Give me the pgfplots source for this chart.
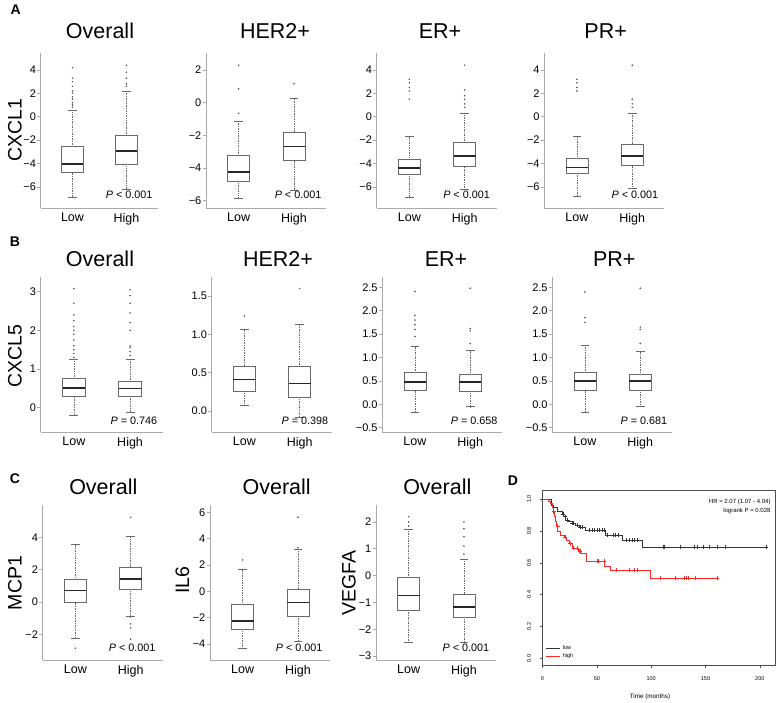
\documentclass[border=0pt]{standalone}
\usepackage{pgfplots}
\pgfplotsset{compat=1.18}
\usepgfplotslibrary{statistics}
\usepackage{fontspec}
\setmainfont{Liberation Sans}
\definecolor{axgray}{RGB}{170,170,170}
\definecolor{boxgray}{RGB}{105,105,105}
\definecolor{outgray}{RGB}{80,80,80}
\newcommand{\tfont}{\fontsize{21.5}{24}\selectfont}
\newcommand{\yfont}{\fontsize{19.5}{22}\selectfont}
\newcommand{\pfont}{\fontsize{10.8}{12}\selectfont}
\newcommand{\lfont}{\fontsize{14}{16}\selectfont\bfseries}
\pgfplotsset{
  boxplot/draw direction=y,
  boxplot/box extend=0.4,
  boxplot/whisker extend=0.16,
  boxplot/every box/.style={draw=boxgray, line width=0.7pt, fill=none},
  boxplot/every median/.style={draw=black!85, line width=1.6pt},
  boxplot/draw/lower whisker/.code={
    \draw[boxgray, densely dotted, line width=0.7pt] (boxplot cs:\pgfplotsboxplotvalue{lower quartile}) -- (boxplot cs:\pgfplotsboxplotvalue{lower whisker});
    \draw[boxgray, line width=0.7pt] (boxplot whisker cs:\pgfplotsboxplotvalue{lower whisker},0) -- (boxplot whisker cs:\pgfplotsboxplotvalue{lower whisker},1);
  },
  boxplot/draw/upper whisker/.code={
    \draw[boxgray, densely dotted, line width=0.7pt] (boxplot cs:\pgfplotsboxplotvalue{upper quartile}) -- (boxplot cs:\pgfplotsboxplotvalue{upper whisker});
    \draw[boxgray, line width=0.7pt] (boxplot whisker cs:\pgfplotsboxplotvalue{upper whisker},0) -- (boxplot whisker cs:\pgfplotsboxplotvalue{upper whisker},1);
  },
  bxaxis/.style={
    scale only axis, width=120pt, height=155pt, anchor=south west,
    axis x line*=bottom, axis y line*=left,
    axis line style={axgray, line width=0.9pt},
    xmin=0.41, xmax=2.58,
    xtick={1,2}, xticklabels={Low,High},
    xtick style={draw=none},
    ytick style={axgray, line width=0.8pt},
    tick align=outside, major tick length=3.5pt,
    xticklabel style={font=\fontsize{12.5}{14}\selectfont, inner sep=1.5pt},
    yticklabel style={font=\fontsize{11}{13}\selectfont, inner sep=1pt},
    clip=false,
  },
  outl/.style={only marks, mark=*, mark size=0.55pt, outgray, forget plot},
}
\newcommand{\bx}[6]{\addplot[forget plot, boxplot prepared={draw position=#1, lower whisker=#2, lower quartile=#3, median=#4, upper quartile=#5, upper whisker=#6}] coordinates {};}

\begin{document}
\begin{tikzpicture}[x=1pt,y=1pt]
\useasboundingbox (0,0) rectangle (778,702);

% ================= Panel A (CXCL1) =================
\begin{axis}[bxaxis, width=117pt, at={(40.7pt,494pt)}, ymin=-7.8, ymax=5.45,
  ytick={-6,-4,-2,0,2,4}, yticklabels={−6,−4,−2,0,2,4}]
\bx{1}{-6.85}{-4.77}{-4.05}{-2.57}{0.57}
\bx{2}{-6.17}{-4.08}{-2.91}{-1.63}{2.2}
\addplot[outl] coordinates {(1,4.2)(1,3.3)(1,3.0)(1,2.6)(1,2.2)(1,2.0)(1,1.7)(1,1.5)(1,1.2)(1,1.0)(1,0.8)
 (2,4.4)(2,3.8)(2,3.3)(2,2.8)(2,2.6)};
\end{axis}
\begin{axis}[bxaxis, at={(206pt,494pt)}, ymin=-6.45, ymax=3.05,
  ytick={-6,-4,-2,0,2}, yticklabels={−6,−4,−2,0,2}]
\bx{1}{-5.84}{-4.81}{-4.26}{-3.24}{-1.13}
\bx{2}{-5.39}{-3.54}{-2.67}{-1.79}{0.3}
\addplot[outl] coordinates {(1,2.3)(1,0.85)(1,-0.65)(2,1.16)};
\end{axis}
\begin{axis}[bxaxis, at={(376.7pt,494pt)}, ymin=-7.8, ymax=5.45,
  ytick={-6,-4,-2,0,2,4}, yticklabels={−6,−4,−2,0,2,4}]
\bx{1}{-6.85}{-4.91}{-4.37}{-3.63}{-1.71}
\bx{2}{-6.17}{-4.28}{-3.37}{-2.23}{0.29}
\addplot[outl] coordinates {(1,3.2)(1,2.9)(1,2.5)(1,2.2)(1,1.5)
 (2,4.4)(2,2.3)(2,1.8)(2,1.5)(2,1.1)(2,0.8)};
\end{axis}
\begin{axis}[bxaxis, at={(544.3pt,494pt)}, ymin=-7.8, ymax=5.45,
  ytick={-6,-4,-2,0,2,4}, yticklabels={−6,−4,−2,0,2,4}]
\bx{1}{-6.8}{-4.81}{-4.33}{-3.56}{-1.69}
\bx{2}{-6.14}{-4.19}{-3.34}{-2.34}{0.31}
\addplot[outl] coordinates {(1,3.2)(1,2.9)(1,2.5)(1,2.2)(2,4.4)(2,1.5)(2,1.1)(2,0.8)};
\end{axis}

% ================= Panel B (CXCL5) =================
\begin{axis}[bxaxis, at={(40.7pt,270pt)}, width=122pt, ymin=-0.63, ymax=3.38,
  ytick={0,1,2,3}, yticklabels={0,1,2,3}]
\bx{1}{-0.19}{0.28}{0.51}{0.75}{1.25}
\bx{2}{-0.13}{0.30}{0.50}{0.67}{1.25}
\addplot[outl] coordinates {(1,3.08)(1,2.7)(1,2.4)(1,2.25)(1,2.1)(1,2.0)(1,1.9)(1,1.75)(1,1.6)(1,1.5)(1,1.4)(1,1.3)
 (2,3.05)(2,2.9)(2,2.7)(2,2.45)(2,2.2)(2,2.0)(2,1.6)(2,1.55)(2,1.45)(2,1.35)};
\end{axis}
\begin{axis}[bxaxis, at={(211.7pt,270pt)}, ymin=-0.274, ymax=1.75,
  ytick={0,0.5,1,1.5}, yticklabels={0.0,0.5,1.0,1.5}]
\bx{1}{0.07}{0.26}{0.413}{0.587}{1.066}
\bx{2}{-0.08}{0.18}{0.36}{0.578}{1.13}
\addplot[outl] coordinates {(1,1.24)(2,1.6)};
\end{axis}
\begin{axis}[bxaxis, at={(382.3pt,270pt)}, ymin=-0.59, ymax=2.72,
  ytick={-0.5,0,0.5,1,1.5,2,2.5}, yticklabels={−0.5,0.0,0.5,1.0,1.5,2.0,2.5}]
\bx{1}{-0.18}{0.29}{0.48}{0.675}{1.23}
\bx{2}{-0.05}{0.28}{0.48}{0.64}{1.15}
\addplot[outl] coordinates {(1,2.41)(1,1.9)(1,1.8)(1,1.7)(1,1.6)(1,1.45)(2,2.48)(2,1.62)(2,1.57)(2,1.3)};
\end{axis}
\begin{axis}[bxaxis, at={(552.3pt,270pt)}, ymin=-0.59, ymax=2.72,
  ytick={-0.5,0,0.5,1,1.5,2,2.5}, yticklabels={−0.5,0.0,0.5,1.0,1.5,2.0,2.5}]
\bx{1}{-0.18}{0.29}{0.50}{0.675}{1.25}
\bx{2}{-0.05}{0.30}{0.50}{0.64}{1.13}
\addplot[outl] coordinates {(1,2.4)(1,1.85)(1,1.75)(2,2.48)(2,1.65)(2,1.6)(2,1.3)};
\end{axis}

% ================= Panel C =================
\begin{axis}[bxaxis, at={(42.7pt,42pt)}, ymin=-3.59, ymax=6.0,
  ytick={-2,0,2,4}, yticklabels={−2,0,2,4}]
\bx{1}{-2.25}{-0.04}{0.7}{1.4}{3.59}
\bx{2}{-0.91}{0.78}{1.42}{2.16}{4.04}
\addplot[outl] coordinates {(1,-2.86)(2,5.24)(2,-1.35)(2,-1.6)(2,-2.3)};
\end{axis}
\begin{axis}[bxaxis, at={(210pt,42pt)}, ymin=-5.21, ymax=6.55,
  ytick={-4,-2,0,2,4,6}, yticklabels={−4,−2,0,2,4,6}]
\bx{1}{-4.33}{-2.89}{-2.25}{-0.99}{1.69}
\bx{2}{-3.82}{-1.87}{-0.86}{0.17}{3.21}
\addplot[outl] coordinates {(1,2.38)(2,5.62)(2,3.3)};
\end{axis}
\begin{axis}[bxaxis, at={(376pt,42pt)}, ymin=-3.15, ymax=2.63,
  ytick={-3,-2,-1,0,1,2}, yticklabels={−3,−2,−1,0,1,2}]
\bx{1}{-2.5}{-1.28}{-0.75}{-0.08}{1.73}
\bx{2}{-2.5}{-1.56}{-1.18}{-0.69}{0.62}
\addplot[outl] coordinates {(1,1.85)(1,2.0)(1,2.2)(2,2.0)(2,1.75)(2,1.45)(2,1.1)(2,0.8)};
\end{axis}

% ================= Panel D (Kaplan-Meier) =================
\begin{axis}[at={(542.5pt,37pt)}, anchor=south west, scale only axis,
  width=232.5pt, height=175pt,
  xmin=0, xmax=214, ymin=-0.04, ymax=1.056,
  axis line style={black!70, line width=0.5pt},
  xtick={0,50,100,150,200}, xticklabels={0,50,100,150,200},
  ytick={0,0.2,0.4,0.6,0.8,1.0},
  yticklabels={0.0,0.2,0.4,0.6,0.8,1.0},
  xtick pos=bottom, ytick pos=left, tick align=outside, major tick length=3pt,
  tick style={black!70, line width=0.5pt},
  tick label style={font=\fontsize{5.5}{6}\selectfont},
  xticklabel style={yshift=-5pt},
  yticklabel style={rotate=90, anchor=south, yshift=5pt},
  legend style={at={(0.015,0.02)}, anchor=south west, draw=none, fill=none,
    font=\fontsize{5.5}{6}\selectfont, inner sep=0pt, row sep=-1.5pt},
  legend image code/.code={\draw[#1] (0pt,0pt) -- (14pt,0pt);},
  legend cell align=left,
]
\addplot[const plot, black!80, line width=0.6pt] coordinates {
 (0,1.0)(8,0.9625)(10,0.946)(14,0.92)(17.8,0.904)(19.5,0.89)(21,0.869)(24,0.858)(27,0.848)(30,0.838)(34,0.823)(39.3,0.806)(57.7,0.775)(73,0.74)(92,0.70)(207,0.70)};
\addlegendentry{low}
\addplot[const plot, red!85!white, line width=0.6pt] coordinates {
 (0,1.0)(5.5,0.985)(7,0.97)(9,0.95)(10,0.92)(11,0.89)(12,0.86)(13,0.83)(14,0.80)(16,0.775)(20,0.76)(22,0.74)(25,0.72)(27,0.69)(33,0.675)(35,0.66)(40,0.61)(57,0.58)(62,0.555)(99,0.505)(160,0.505)};
\addlegendentry{high}
\addplot[only marks, mark=+, mark size=2pt, black!80, line width=0.5pt, forget plot] coordinates {
 (18.8,0.904)(20.9,0.89)(23.1,0.869)(27.1,0.848)(28.6,0.848)(32.3,0.838)(34.8,0.823)(36.3,0.823)
 (43.4,0.806)(45.9,0.806)(48.0,0.806)(50.2,0.806)(52.3,0.806)(54.8,0.806)(57,0.806)
 (60,0.775)(65,0.775)(67.1,0.775)(69.3,0.775)(76.7,0.74)(79.4,0.74)(82.2,0.74)(84.7,0.74)(87.1,0.74)
 (110.8,0.70)(112.4,0.70)(126.5,0.70)(140,0.70)(142.5,0.70)(148.4,0.70)(153.9,0.70)(160.4,0.70)(167.8,0.70)(206,0.70)};
\addplot[only marks, mark=+, mark size=2pt, red!85!white, line width=0.5pt, forget plot] coordinates {
 (10.2,0.92)(13.9,0.83)(20.9,0.76)(25.6,0.72)(28.6,0.69)(31.7,0.69)(34.2,0.675)(34.8,0.675)
 (50.2,0.61)(51.7,0.61)(56.5,0.61)(68,0.555)(79.4,0.555)(84.7,0.555)(87.1,0.555)
 (108,0.505)(121.9,0.505)(130.2,0.505)(132.7,0.505)(133.9,0.505)(141,0.505)(160.4,0.505)};
\end{axis}

% ================= Texts =================
\node[font=\lfont] at (15.8,{702-10}) {A};
\node[font=\lfont] at (15,{702-241.7}) {B};
\node[font=\lfont] at (15,{702-478.3}) {C};
\node[font=\lfont] at (513,{702-480.5}) {D};
\node[font=\tfont, anchor=base] at (100,{702-38.5}) {Overall};
\node[font=\tfont, anchor=base] at (275,{702-38.5}) {HER2+};
\node[font=\tfont, anchor=base] at (440,{702-38.5}) {ER+};
\node[font=\tfont, anchor=base] at (605.7,{702-38.5}) {PR+};
\node[font=\tfont, anchor=base] at (100,{702-267}) {Overall};
\node[font=\tfont, anchor=base] at (278,{702-267}) {HER2+};
\node[font=\tfont, anchor=base] at (446,{702-267}) {ER+};
\node[font=\tfont, anchor=base] at (614.3,{702-267}) {PR+};
\node[font=\tfont, anchor=base] at (103.3,{702-494}) {Overall};
\node[font=\tfont, anchor=base] at (276.7,{702-494}) {Overall};
\node[font=\tfont, anchor=base] at (437.3,{702-494}) {Overall};
\node[font=\yfont, rotate=90] at (15,{702-130}) {CXCL1};
\node[font=\yfont, rotate=90] at (15,{702-356}) {CXCL5};
\node[font=\yfont, rotate=90] at (15,{702-583}) {MCP1};
\node[font=\yfont, rotate=90] at (182.5,{702-580}) {IL6};
\node[font=\yfont, rotate=90] at (349,{702-583}) {VEGFA};
\node[font=\pfont, anchor=base east, inner sep=0pt] at (152.7,{702-199}) {\textit{P} < 0.001};
\node[font=\pfont, anchor=base east, inner sep=0pt] at (321.5,{702-199}) {\textit{P} < 0.001};
\node[font=\pfont, anchor=base east, inner sep=0pt] at (490,{702-199}) {\textit{P} < 0.001};
\node[font=\pfont, anchor=base east, inner sep=0pt] at (658.3,{702-199}) {\textit{P} < 0.001};
\node[font=\pfont, anchor=base east, inner sep=0pt] at (157.3,{702-424.3}) {\textit{P} = 0.746};
\node[font=\pfont, anchor=base east, inner sep=0pt] at (328.3,{702-424.3}) {\textit{P} = 0.398};
\node[font=\pfont, anchor=base east, inner sep=0pt] at (497.7,{702-424}) {\textit{P} = 0.658};
\node[font=\pfont, anchor=base east, inner sep=0pt] at (667.3,{702-424}) {\textit{P} = 0.681};
\node[font=\pfont, anchor=base east, inner sep=0pt] at (155.7,{702-651.7}) {\textit{P} < 0.001};
\node[font=\pfont, anchor=base east, inner sep=0pt] at (322.7,{702-651.7}) {\textit{P} < 0.001};
\node[font=\pfont, anchor=base east, inner sep=0pt] at (489.3,{702-651.7}) {\textit{P} < 0.001};
\node[font=\fontsize{6}{7}\selectfont, anchor=base east, inner sep=0pt] at (770.7,{702-503.3}) {HR = 2.07 (1.07 - 4.04)};
\node[font=\fontsize{6}{7}\selectfont, anchor=base east, inner sep=0pt] at (770.7,{702-512.3}) {logrank P = 0.028};
\node[font=\fontsize{6.3}{7}\selectfont] at (650,{702-696.7}) {Time (months)};
\end{tikzpicture}
\end{document}
